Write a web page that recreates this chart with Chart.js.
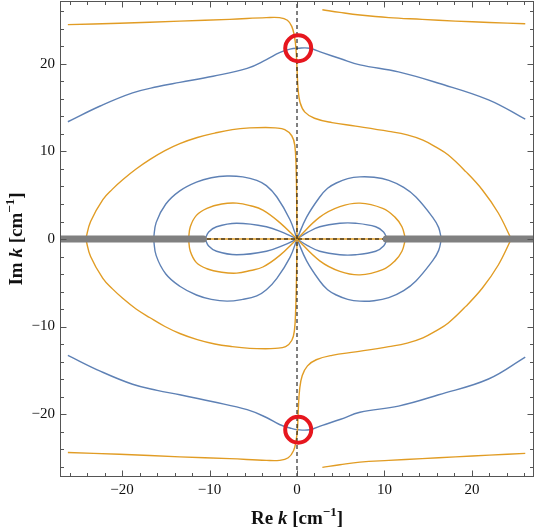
<!DOCTYPE html>
<html>
<head>
<meta charset="utf-8">
<script src="https://cdn.jsdelivr.net/npm/chart.js@4"></script>
<style>
  html, body { margin: 0; padding: 0; background: #fff; }
</style>
</head>
<body>
<canvas id="c" width="536" height="530"></canvas>
<script>
// ---- contour lines (Re k, Im k in cm^-1) ----
// orange: top-left branch, down the imaginary axis, into the right arc
const orangeOuterTopX = [-26.2, -20.3, -13.4, -7.7, -3.5, -2.0, -1.1, -0.6, -0.3, -0.12, 0.0, 0.12, 0.35, 0.9, 2.0, 4.0, 6.7, 10.5, 12.6, 14.4, 15.9, 17.3, 19.3, 21.2, 23.0, 24.5];
const orangeOuterTopY = [24.5, 24.65, 24.9, 25.1, 25.3, 25.3, 25.0, 24.3, 23.2, 21.8, 19.5, 17.2, 15.6, 14.5, 13.8, 13.3, 12.9, 12.3, 11.9, 11.3, 10.5, 9.6, 7.7, 5.6, 3.0, 0];
const orangeOuterBotX = [-26.2, -20.3, -13.4, -7.7, -3.5, -2.0, -1.0, -0.4, -0.1, 0.05, 0.15, 0.3, 0.6, 1.2, 2.2, 4.0, 6.7, 10.5, 12.6, 14.4, 15.9, 17.3, 19.3, 21.2, 23.0, 24.5];
const orangeOuterBotY = [-24.4, -24.6, -24.9, -25.1, -25.3, -25.3, -25.0, -24.2, -23.0, -21.8, -19.5, -17.2, -15.6, -14.5, -13.8, -13.3, -12.9, -12.3, -11.9, -11.3, -10.5, -9.6, -7.7, -5.6, -3.0, 0];
// orange: left "D" closed by the imaginary axis
const orangeLeftTopX = [-24.15, -23.6, -22.2, -21.1, -19.9, -18.4, -16.8, -15.1, -13.4, -11.4, -9.4, -7.4, -5.4, -3.6, -2.5, -1.4, -0.6, -0.25, -0.1, -0.03, 0];
const orangeLeftTopY = [0, 2.0, 4.5, 5.7, 6.8, 8.0, 9.1, 10.1, 10.9, 11.6, 12.1, 12.5, 12.7, 12.75, 12.7, 12.5, 11.8, 10.7, 8.0, 4.0, 0];
const orangeLeftBotX = [-24.15, -23.6, -22.2, -21.1, -19.9, -18.4, -16.8, -15.1, -13.4, -11.4, -9.4, -7.4, -5.4, -3.6, -2.5, -1.3, -0.6, -0.3, -0.15, -0.05, 0];
const orangeLeftBotY = [0, -2.0, -4.5, -5.7, -6.8, -8.0, -9.0, -10.0, -10.8, -11.5, -12.0, -12.3, -12.5, -12.55, -12.5, -12.3, -11.6, -10.5, -8.0, -4.0, 0];
// orange: short branches top-right / bottom-right
const orangeTopRightX = [2.9, 4.9, 7.2, 10.5, 14.3, 18.1, 22.0, 26.1];
const orangeTopRightY = [26.2, 25.9, 25.6, 25.3, 25.1, 24.9, 24.75, 24.6];
const orangeBotRightX = [2.9, 4.9, 7.2, 10.5, 14.3, 18.1, 22.0, 26.1];
const orangeBotRightY = [-26.1, -25.8, -25.5, -25.3, -25.1, -24.9, -24.7, -24.5];
// orange: inner lobes
const orangeInnerLX = [-12.4, -12.2, -11.5, -10.3, -8.6, -6.9, -5.3, -3.9, -2.0, 0];
const orangeInnerLTopY = [0, 1.4, 2.7, 3.5, 4.0, 4.1, 3.8, 3.3, 1.9, 0];
const orangeInnerLBotY = [0, -1.4, -2.7, -3.4, -3.8, -3.9, -3.6, -3.2, -1.9, 0];
const orangeInnerRX = [0, 2.6, 4.9, 7.2, 9.8, 11.2, 12.0, 12.4];
const orangeInnerRTopY = [0, 2.5, 3.7, 4.1, 3.5, 2.5, 1.4, 0];
const orangeInnerRBotY = [0, -2.5, -3.7, -4.1, -3.5, -2.5, -1.4, 0];
// orange along the real axis
const orangeAxisX = [-27.1, 27.1];
const orangeAxisY = [0, 0];

// blue: top and bottom "tents"
const blueTentX = [-26.2, -22.5, -18.8, -16.0, -13.4, -9.6, -5.7, -3.5, -2.0, -0.8, 0.1, 1.45, 2.9, 5.0, 7.2, 11.6, 16.2, 21.9, 26.1];
const blueTopY = [13.4, 15.2, 16.7, 17.4, 17.9, 18.6, 19.5, 20.5, 21.3, 21.7, 21.8, 21.8, 21.3, 20.6, 19.9, 19.1, 17.8, 15.9, 13.7];
const blueBotY = [-13.3, -15.1, -16.6, -17.3, -17.8, -18.6, -19.5, -20.4, -21.2, -21.6, -21.8, -21.8, -21.3, -20.6, -19.8, -19.1, -17.8, -16.0, -13.5];
// blue: outer lobes
const blueOuterLX = [-16.4, -16.1, -15.0, -13.4, -11.5, -9.8, -8.0, -6.2, -4.6, -3.5, -2.3, -0.8, 0];
const blueOuterLTopY = [0, 1.9, 4.0, 5.5, 6.5, 7.0, 7.2, 7.1, 6.7, 6.1, 4.8, 2.2, 0];
const blueOuterLBotY = [0, -1.9, -4.0, -5.4, -6.4, -6.9, -7.1, -6.9, -6.5, -5.8, -4.5, -2.1, 0];
const blueOuterRX = [0, 1.1, 2.6, 3.5, 4.5, 5.8, 7.2, 8.8, 10.5, 12.2, 13.6, 15.5, 16.2, 16.5];
const blueOuterRTopY = [0, 2.5, 4.8, 5.8, 6.4, 6.9, 7.1, 7.05, 6.7, 5.9, 4.8, 2.5, 1.3, 0];
const blueOuterRBotY = [0, -2.5, -4.8, -5.8, -6.4, -6.9, -7.1, -7.05, -6.7, -5.9, -4.8, -2.5, -1.3, 0];
// blue: innermost lobes
const blueInnerLX = [-10.5, -10.1, -9.2, -6.9, -3.5, -1.5, 0];
const blueInnerLTopY = [0, 0.8, 1.4, 1.8, 1.4, 0.7, 0];
const blueInnerLBotY = [0, -0.8, -1.4, -1.8, -1.4, -0.7, 0];
const blueInnerRX = [0, 1.2, 2.6, 4.9, 6.7, 9.0, 9.9, 10.3];
const blueInnerRTopY = [0, 0.75, 1.4, 1.8, 1.8, 1.4, 0.8, 0];
const blueInnerRBotY = [0, -0.75, -1.4, -1.8, -1.8, -1.4, -0.8, 0];

// gray branch cuts on the real axis
const cutLeftX = [-27.1, -10.7];
const cutRightX = [10.2, 27.1];
// marked zeros
const markX = [0.14, 0.14];
const markY = [21.8, -21.8];

const xRange = [-27.1, 27.1];
const yRange = [-27.2, 27.2];

const BLUE = '#5E81B5';
const ORANGE = '#E19C24';

function pts(xs, ys) {
  return xs.map((x, i) => ({ x: x, y: ys[i] }));
}
function flat(xs, v) {
  return xs.map(x => ({ x: x, y: v }));
}
function curve(xs, ys, color) {
  return {
    data: pts(xs, ys), borderColor: color, borderWidth: 1.4,
    showLine: true, pointRadius: 0, tension: 0.4, fill: false, clip: 0, order: 5
  };
}
function minus(v) {
  return String(v).replace('-', '\u2212');
}

const datasets = [
  curve(orangeOuterTopX, orangeOuterTopY, ORANGE),
  curve(orangeOuterBotX, orangeOuterBotY, ORANGE),
  curve(orangeLeftTopX, orangeLeftTopY, ORANGE),
  curve(orangeLeftBotX, orangeLeftBotY, ORANGE),
  curve(orangeTopRightX, orangeTopRightY, ORANGE),
  curve(orangeBotRightX, orangeBotRightY, ORANGE),
  curve(orangeInnerLX, orangeInnerLTopY, ORANGE),
  curve(orangeInnerLX, orangeInnerLBotY, ORANGE),
  curve(orangeInnerRX, orangeInnerRTopY, ORANGE),
  curve(orangeInnerRX, orangeInnerRBotY, ORANGE),
  curve(blueTentX, blueTopY, BLUE),
  curve(blueTentX, blueBotY, BLUE),
  curve(blueOuterLX, blueOuterLTopY, BLUE),
  curve(blueOuterLX, blueOuterLBotY, BLUE),
  curve(blueOuterRX, blueOuterRTopY, BLUE),
  curve(blueOuterRX, blueOuterRBotY, BLUE),
  curve(blueInnerLX, blueInnerLTopY, BLUE),
  curve(blueInnerLX, blueInnerLBotY, BLUE),
  curve(blueInnerRX, blueInnerRTopY, BLUE),
  curve(blueInnerRX, blueInnerRBotY, BLUE),
  Object.assign(curve(orangeAxisX, orangeAxisY, ORANGE), { tension: 0, order: 4 }),
  // dashed real axis
  { data: flat(xRange, 0), borderColor: '#000', borderWidth: 1, borderDash: [4, 3],
    showLine: true, pointRadius: 0, clip: 0, order: 3 },
  // branch cuts
  { data: flat(cutLeftX, 0), borderColor: '#808080', borderWidth: 7, borderCapStyle: 'round',
    showLine: true, pointRadius: 0, clip: 0, order: 2 },
  { data: flat(cutRightX, 0), borderColor: '#808080', borderWidth: 7, borderCapStyle: 'round',
    showLine: true, pointRadius: 0, clip: 0, order: 2 },
  // dashed imaginary axis
  { data: yRange.map(y => ({ x: 0, y: y })), borderColor: '#000', borderWidth: 1, borderDash: [4, 3],
    showLine: true, pointRadius: 0, clip: 0, order: 1 },
  // red circles
  { data: pts(markX, markY), showLine: false, pointRadius: 13, pointBorderWidth: 4,
    pointBorderColor: 'rgb(230,22,30)', pointBackgroundColor: 'rgba(0,0,0,0)', clip: false, order: 0 }
];

// frame with inward ticks + axis titles
const framePlugin = {
  id: 'frame',
  afterDraw(chart) {
    const ctx = chart.ctx;
    const a = chart.chartArea;
    const sx = chart.scales.x, sy = chart.scales.y;
    const L = Math.round(a.left) + 0.5, R = Math.round(a.right) - 0.5;
    const T = Math.round(a.top) + 0.5, B = Math.round(a.bottom) - 0.5;
    ctx.save();
    ctx.strokeStyle = '#555';
    ctx.lineWidth = 1;
    ctx.strokeRect(L, T, R - L, B - T);
    ctx.beginPath();
    sx.ticks.forEach(t => {
      const v = Math.round(t.value);
      if (v % 2 !== 0) return;
      const len = v % 10 === 0 ? 6 : 3.5;
      const px = Math.round(sx.getPixelForValue(v)) + 0.5;
      ctx.moveTo(px, B); ctx.lineTo(px, B - len);
      ctx.moveTo(px, T); ctx.lineTo(px, T + len);
    });
    sy.ticks.forEach(t => {
      const v = Math.round(t.value);
      if (v % 2 !== 0) return;
      const len = v % 10 === 0 ? 6 : 3.5;
      const py = Math.round(sy.getPixelForValue(v)) + 0.5;
      ctx.moveTo(L, py); ctx.lineTo(L + len, py);
      ctx.moveTo(R, py); ctx.lineTo(R - len, py);
    });
    ctx.stroke();

    // axis titles: bold serif, italic k, superscript -1
    const parts = (name) => [
      { t: name + ' ', f: 'bold 19px "Liberation Serif"', dy: 0 },
      { t: 'k', f: 'italic bold 19px "Liberation Serif"', dy: 0 },
      { t: ' [cm', f: 'bold 19px "Liberation Serif"', dy: 0 },
      { t: '\u22121', f: 'bold 13px "Liberation Serif"', dy: -8 },
      { t: ']', f: 'bold 19px "Liberation Serif"', dy: 0 }
    ];
    function drawTitle(list, cx, cy) {
      let w = 0;
      list.forEach(p => { ctx.font = p.f; p.w = ctx.measureText(p.t).width; w += p.w; });
      let x = cx - w / 2;
      ctx.fillStyle = '#111';
      ctx.textBaseline = 'alphabetic';
      ctx.textAlign = 'left';
      list.forEach(p => { ctx.font = p.f; ctx.fillText(p.t, x, cy + p.dy); x += p.w; });
    }
    drawTitle(parts('Re'), (a.left + a.right) / 2, 524);
    ctx.translate(22, (a.top + a.bottom) / 2);
    ctx.rotate(-Math.PI / 2);
    drawTitle(parts('Im'), 0, 0);
    ctx.restore();
  }
};

const tickFont = { family: 'Liberation Serif', size: 15 };

function noPad(s) {
  s.paddingLeft = 0; s.paddingRight = 0; s.paddingTop = 0; s.paddingBottom = 0;
}

new Chart(document.getElementById('c'), {
  type: 'scatter',
  data: { datasets: datasets },
  options: {
    responsive: false,
    animation: false,
    events: [],
    layout: { autoPadding: false, padding: { top: 1, right: 2, left: 0, bottom: 0 } },
    plugins: { legend: { display: false }, tooltip: { enabled: false } },
    scales: {
      x: {
        type: 'linear', position: 'bottom', min: xRange[0], max: xRange[1],
        grid: { display: false, drawTicks: false },
        border: { display: false },
        ticks: {
          stepSize: 2, includeBounds: false, autoSkip: false, maxRotation: 0,
          font: tickFont, color: '#111', padding: 4,
          callback: v => (Math.round(v) % 10 === 0 ? minus(Math.round(v)) : '')
        },
        afterFit: s => { s.height = 53; noPad(s); }
      },
      y: {
        type: 'linear', position: 'left', min: yRange[0], max: yRange[1],
        grid: { display: false, drawTicks: false },
        border: { display: false },
        ticks: {
          stepSize: 2, includeBounds: false, autoSkip: false,
          font: tickFont, color: '#111', padding: 5,
          callback: v => (Math.round(v) % 10 === 0 ? minus(Math.round(v)) : '')
        },
        afterFit: s => { s.width = 60; noPad(s); }
      }
    }
  },
  plugins: [framePlugin]
});
</script>
</body>
</html>
